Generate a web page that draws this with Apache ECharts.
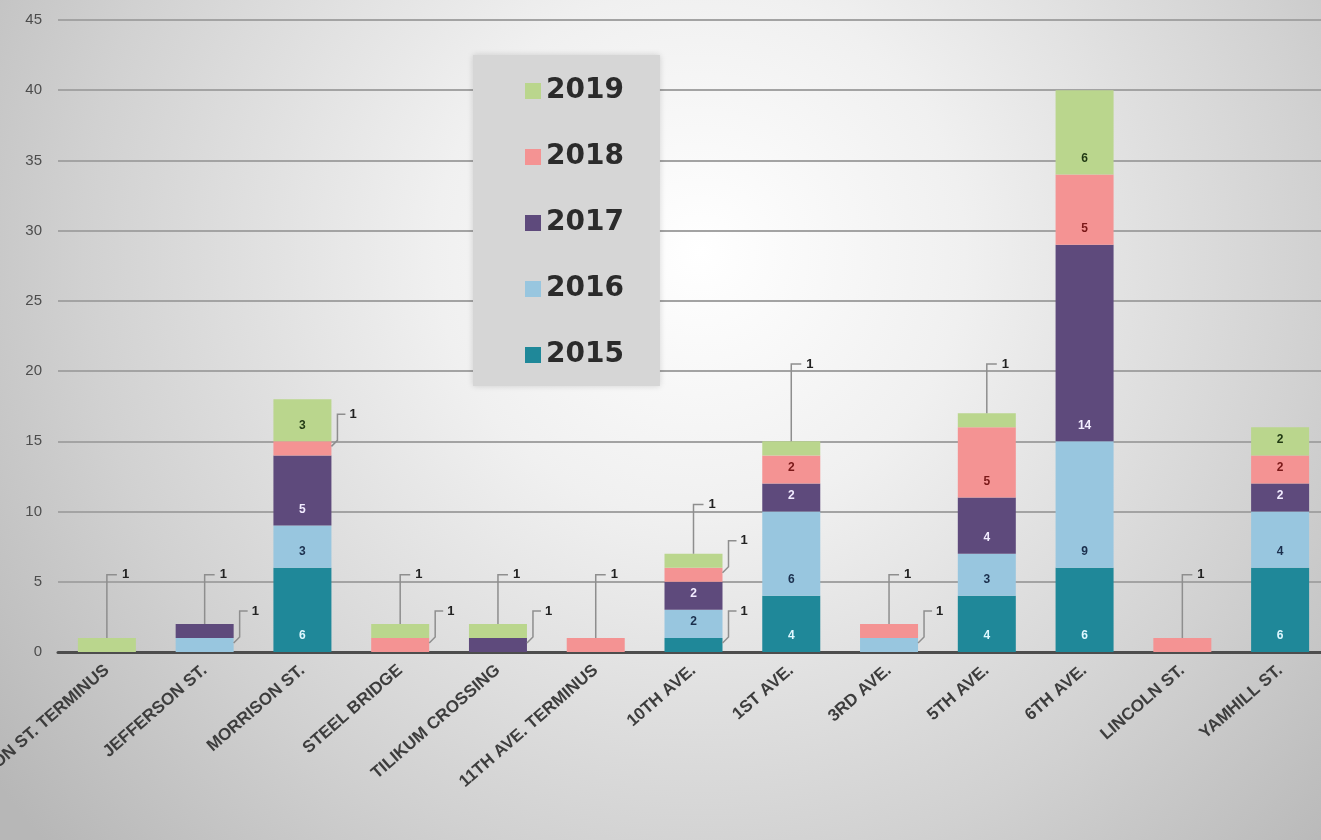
<!DOCTYPE html>
<html>
<head>
<meta charset="utf-8">
<script src="https://cdn.jsdelivr.net/npm/echarts@6/dist/echarts.min.js"></script>
<style>html,body{margin:0;padding:0;background:#d0d0d0;}#c{width:1321px;height:840px;}</style>
</head>
<body>
<div id="c"></div>
<script>
const categories = ['MADISON ST. TERMINUS','JEFFERSON ST.','MORRISON ST.','STEEL BRIDGE','TILIKUM CROSSING','11TH AVE. TERMINUS','10TH AVE.','1ST AVE.','3RD AVE.','5TH AVE.','6TH AVE.','LINCOLN ST.','YAMHILL ST.'];
const years = ['2015','2016','2017','2018','2019'];
const v2015 = [0,0,6,0,0,0,1,4,0,4,6,0,6];
const v2016 = [0,1,3,0,0,0,2,6,1,3,9,0,4];
const v2017 = [0,1,5,0,1,0,2,2,0,4,14,0,2];
const v2018 = [0,0,1,1,0,1,1,2,1,5,5,1,2];
const v2019 = [1,0,3,1,1,0,1,1,0,1,6,0,2];
const yTicks = {min:0, max:45, interval:5};

const values = [v2015, v2016, v2017, v2018, v2019];
const colors = ['#1f8899','#98c6df','#5e4a7c','#f49393','#bad68d'];
const labelColors = ['#dff8ff','#1b2f4d','#f2ecff','#7a1818','#1f3812'];
const FONT = '"Liberation Sans", Arial, sans-serif';
const BAR_W = 58;

// callouts for single-count segments, derived from the data arrays
const callouts = [];
categories.forEach((c, i) => {
  let base = 0;
  const total = values.reduce((s, a) => s + a[i], 0);
  values.forEach((arr, s) => {
    const v = arr[i];
    if (v === 1) {
      const above = values.slice(s + 1).reduce((t, a) => t + a[i], 0);
      const isTop = above === 0 ? 0 : 1;
      const level = Math.ceil((total + 3) / 5) * 5 + 0.5;
      callouts.push([i, base, base + v, isTop, level]);
    }
    base += v;
  });
});

const chart = echarts.init(document.getElementById('c'), null, {renderer:'canvas'});
const series = years.map((y, s) => ({
  name: y,
  type: 'bar',
  stack: 'total',
  barWidth: BAR_W,
  data: values[s],
  itemStyle: {color: colors[s]},
  label: {
    show: true,
    position: 'insideBottom',
    distance: 10,
    formatter: p => (p.value > 1 ? String(p.value) : ''),
    color: labelColors[s],
    fontSize: 12,
    fontWeight: 'bold',
    fontFamily: FONT
  }
}));
series.push({
  type: 'custom',
  name: 'callouts',
  clip: false,
  z: 5,
  silent: true,
  encode: {x: 0, y: [1, 2]},
  data: callouts,
  renderItem: function (params, api) {
    const ci = api.value(0), lo = api.value(1), hi = api.value(2), kind = api.value(3), level = api.value(4);
    const pTop = api.coord([ci, hi]);
    const cx = pTop[0];
    let pts, tx, ty;
    if (kind === 0) {
      const yl = api.coord([ci, level])[1];
      pts = [[cx, pTop[1]], [cx, yl], [cx + 10, yl]];
      tx = cx + 15; ty = yl;
    } else {
      const ym = api.coord([ci, (lo + hi) / 2])[1];
      const x0 = cx + BAR_W / 2;
      const yl = ym - 34;
      pts = [[x0, ym - 2], [x0 + 6, ym - 8], [x0 + 6, yl], [x0 + 14, yl]];
      tx = x0 + 18; ty = yl;
    }
    return {
      type: 'group',
      children: [
        {type: 'polyline', shape: {points: pts}, style: {stroke: '#8e8e8e', lineWidth: 1.5, fill: null}},
        {type: 'text', x: tx, y: ty, style: {text: String(hi - lo), font: 'bold 13px ' + FONT, fill: '#222', verticalAlign: 'middle', align: 'left'}}
      ]
    };
  }
});

chart.setOption({
  animation: false,
  backgroundColor: {
    type: 'radial', x: 0.53, y: 0.3, r: 1.05,
    colorStops: [
      {offset: 0, color: '#ffffff'},
      {offset: 0.3, color: '#f0f0f0'},
      {offset: 0.7, color: '#d1d1d1'},
      {offset: 1, color: '#b7b7b7'}
    ]
  },
  grid: {left: 58, top: 20, width: 1271, height: 632, containLabel: false, outerBoundsMode: 'none'},
  legend: {
    data: ['2019','2018','2017','2016','2015'],
    orient: 'vertical',
    left: 473, top: 55,
    padding: [21, 36, 16, 52],
    itemGap: 36,
    itemWidth: 16, itemHeight: 16,
    itemTextGap: 14,
    icon: 'rect',
    backgroundColor: '#d6d6d6',
    shadowBlur: 6, shadowColor: 'rgba(0,0,0,0.15)',
    textStyle: {fontFamily: '"DejaVu Sans", sans-serif', fontWeight: 'bold', fontSize: 28, color: '#2b2b2b', lineHeight: 30}
  },
  xAxis: {
    type: 'category',
    data: categories,
    axisTick: {show: false},
    axisLine: {lineStyle: {color: '#4d4d4d', width: 3}},
    axisLabel: {interval: 0, rotate: 41, margin: 16, fontFamily: FONT, fontWeight: 'bold', fontSize: 17, color: '#3d3d3d'}
  },
  yAxis: {
    type: 'value',
    min: yTicks.min, max: yTicks.max, interval: yTicks.interval,
    axisLine: {show: false},
    axisTick: {show: false},
    splitLine: {lineStyle: {color: '#a3a3a3', width: 2}},
    axisLabel: {margin: 16, fontFamily: FONT, fontSize: 15, color: '#4d4d4d'}
  },
  series: series
});
</script>
</body>
</html>
